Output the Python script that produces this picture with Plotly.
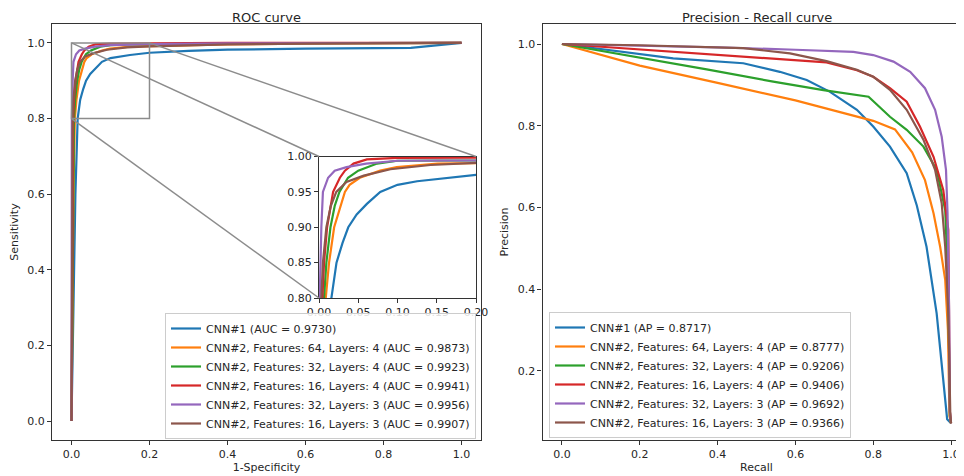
import plotly.graph_objects as go

# ---------------- data ----------------
model_names = [
    "CNN#1",
    "CNN#2, Features: 64, Layers: 4",
    "CNN#2, Features: 32, Layers: 4",
    "CNN#2, Features: 16, Layers: 4",
    "CNN#2, Features: 32, Layers: 3",
    "CNN#2, Features: 16, Layers: 3",
]
auc_values = [0.9730, 0.9873, 0.9923, 0.9941, 0.9956, 0.9907]
ap_values = [0.8717, 0.8777, 0.9206, 0.9406, 0.9692, 0.9366]
colors = ["#1f77b4", "#ff7f0e", "#2ca02c", "#d62728", "#9467bd", "#8c564b"]

fpr_cnn1 = [0, 0.01, 0.0158, 0.0223, 0.030, 0.0373, 0.048, 0.061, 0.078, 0.10, 0.125, 0.15, 0.2, 0.3, 0.4, 0.6, 0.87, 1.0]
tpr_cnn1 = [0, 0.6, 0.80, 0.85, 0.878, 0.90, 0.918, 0.933, 0.95, 0.96, 0.965, 0.968, 0.974, 0.979, 0.982, 0.985, 0.987, 1.0]
fpr_f64l4 = [0, 0.005, 0.0086, 0.0128, 0.0193, 0.033, 0.039, 0.052, 0.078, 0.099, 0.151, 0.2, 0.4, 0.6, 1.0]
tpr_f64l4 = [0, 0.6, 0.80, 0.85, 0.90, 0.95, 0.96, 0.97, 0.98, 0.985, 0.99, 0.991, 0.996, 0.998, 1.0]
fpr_f32l4 = [0, 0.003, 0.0064, 0.0094, 0.0146, 0.020, 0.026, 0.037, 0.050, 0.074, 0.1, 0.15, 0.2, 0.4, 1.0]
tpr_f32l4 = [0, 0.5, 0.80, 0.85, 0.90, 0.93, 0.95, 0.97, 0.98, 0.99, 0.994, 0.996, 0.997, 0.999, 1.0]
fpr_f16l4 = [0, 0.002, 0.0043, 0.0064, 0.0103, 0.018, 0.0266, 0.033, 0.044, 0.061, 0.1, 0.2, 0.4, 1.0]
tpr_f16l4 = [0, 0.5, 0.80, 0.85, 0.90, 0.95, 0.97, 0.98, 0.99, 0.996, 0.998, 0.999, 1.0, 1.0]
fpr_f32l3 = [0, 0.0005, 0.0009, 0.003, 0.005, 0.0116, 0.020, 0.035, 0.06, 0.1, 0.2, 0.4, 1.0]
tpr_f32l3 = [0, 0.5, 0.80, 0.90, 0.95, 0.97, 0.98, 0.985, 0.99, 0.994, 0.997, 0.999, 1.0]
fpr_f16l3 = [0, 0.0015, 0.003, 0.005, 0.0094, 0.015, 0.022, 0.035, 0.057, 0.091, 0.142, 0.2, 0.4, 0.6, 1.0]
tpr_f16l3 = [0, 0.5, 0.80, 0.85, 0.90, 0.93, 0.95, 0.964, 0.973, 0.982, 0.988, 0.991, 0.996, 0.998, 1.0]

rec_cnn1 = [0, 0.1, 0.286, 0.466, 0.56, 0.629, 0.689, 0.758, 0.8, 0.843, 0.886, 0.912, 0.937, 0.963, 0.98, 0.99, 1.0]
prec_cnn1 = [1.0, 0.988, 0.965, 0.953, 0.932, 0.912, 0.883, 0.839, 0.798, 0.749, 0.684, 0.605, 0.504, 0.341, 0.178, 0.082, 0.072]
rec_f64l4 = [0, 0.2, 0.4, 0.6, 0.8, 0.856, 0.9, 0.933, 0.955, 0.972, 0.985, 0.992, 0.996, 1.0]
prec_f64l4 = [1.0, 0.947, 0.905, 0.862, 0.812, 0.791, 0.735, 0.667, 0.586, 0.504, 0.423, 0.3, 0.09, 0.072]
rec_f32l4 = [0, 0.2, 0.372, 0.543, 0.672, 0.788, 0.843, 0.886, 0.929, 0.963, 0.985, 0.993, 0.997, 1.0]
prec_f32l4 = [1.0, 0.967, 0.938, 0.908, 0.887, 0.871, 0.822, 0.790, 0.749, 0.692, 0.594, 0.4, 0.09, 0.072]
rec_f16l4 = [0, 0.2, 0.466, 0.68, 0.758, 0.8, 0.843, 0.886, 0.92, 0.955, 0.98, 0.993, 0.997, 1.0]
prec_f16l4 = [1.0, 0.987, 0.969, 0.955, 0.936, 0.92, 0.892, 0.859, 0.798, 0.724, 0.643, 0.545, 0.1, 0.072]
rec_f32l3 = [0, 0.2, 0.4, 0.6, 0.749, 0.8, 0.852, 0.895, 0.933, 0.959, 0.976, 0.987, 0.991, 0.995, 0.997, 1.0]
prec_f32l3 = [1.0, 0.996, 0.992, 0.986, 0.981, 0.973, 0.957, 0.932, 0.892, 0.839, 0.773, 0.692, 0.586, 0.35, 0.1, 0.072]
rec_f16l3 = [0, 0.2, 0.466, 0.586, 0.68, 0.758, 0.8, 0.843, 0.886, 0.929, 0.959, 0.976, 0.985, 0.993, 0.998, 1.0]
prec_f16l3 = [1.0, 0.997, 0.99, 0.977, 0.958, 0.937, 0.92, 0.888, 0.839, 0.766, 0.692, 0.61, 0.504, 0.341, 0.1, 0.072]

roc_fpr = [fpr_cnn1, fpr_f64l4, fpr_f32l4, fpr_f16l4, fpr_f32l3, fpr_f16l3]
roc_tpr = [tpr_cnn1, tpr_f64l4, tpr_f32l4, tpr_f16l4, tpr_f32l3, tpr_f16l3]
pr_rec = [rec_cnn1, rec_f64l4, rec_f32l4, rec_f16l4, rec_f32l3, rec_f16l3]
pr_prec = [prec_cnn1, prec_f64l4, prec_f32l4, prec_f16l4, prec_f32l3, prec_f16l3]

main_ticks = [0.0, 0.2, 0.4, 0.6, 0.8, 1.0]
pr_yticks = [0.2, 0.4, 0.6, 0.8, 1.0]
inset_xticks = [0.00, 0.05, 0.10, 0.15, 0.20]
inset_yticks = [0.80, 0.85, 0.90, 0.95, 1.00]

# ---------------- layout geometry ----------------
W, H = 964, 476
PAGE_OFFSET = 8  # default page margin around the plot div
FONT = "DejaVu Sans"
TXT = "#262626"
AX = "#333333"
ZOOM = "#8c8c8c"

def px_x(p):
    return (p - PAGE_OFFSET) / W

def px_y(p):
    return 1 - (p - PAGE_OFFSET) / H

main_dom_x = [px_x(52), px_x(481)]
pr_dom_x = [px_x(542.5), px_x(970.5)]
dom_y = [px_y(440), px_y(24)]
inset_dom_x = [px_x(319), px_x(476)]
inset_dom_y = [px_y(298), px_y(156.5)]

main_xr = [-0.05, 1.05]
main_yr = [-0.05, 1.05]
pr_xr = [-0.05, 1.05]
pr_yr = [0.031, 1.049]
inset_xr = [0.0, 0.2]
inset_yr = [0.8, 1.0]

fig = go.Figure()

for i in range(6):
    fig.add_trace(go.Scatter(
        x=roc_fpr[i], y=roc_tpr[i], mode="lines",
        line=dict(color=colors[i], width=2.2),
        name=f"{model_names[i]} (AUC = {auc_values[i]:.4f})",
        xaxis="x", yaxis="y", legend="legend",
    ))
for i in range(6):
    fig.add_trace(go.Scatter(
        x=roc_fpr[i], y=roc_tpr[i], mode="lines",
        line=dict(color=colors[i], width=2.2),
        showlegend=False, xaxis="x3", yaxis="y3",
    ))
for i in range(6):
    fig.add_trace(go.Scatter(
        x=pr_rec[i], y=pr_prec[i], mode="lines",
        line=dict(color=colors[i], width=2.2),
        name=f"{model_names[i]} (AP = {ap_values[i]:.4f})",
        xaxis="x2", yaxis="y2", legend="legend2",
    ))

axis_common = dict(
    showgrid=False, zeroline=False, showline=True, linecolor=AX, linewidth=1.2,
    mirror=True, ticks="outside", ticklen=4, tickcolor=AX, tickwidth=1,
    automargin=False,
    tickfont=dict(family=FONT, size=11, color=TXT),
)

def to_paper(xv, yv, xr, yr, dx, dy):
    px = dx[0] + (xv - xr[0]) / (xr[1] - xr[0]) * (dx[1] - dx[0])
    py = dy[0] + (yv - yr[0]) / (yr[1] - yr[0]) * (dy[1] - dy[0])
    return px, py

# zoom indicator rectangle + connectors
shapes = [dict(type="rect", xref="x", yref="y",
               x0=inset_xr[0], x1=inset_xr[1], y0=inset_yr[0], y1=inset_yr[1],
               line=dict(color=ZOOM, width=1.5), layer="above")]
for cx, cy in [(inset_xr[0], inset_yr[1]), (inset_xr[1], inset_yr[1]), (inset_xr[0], inset_yr[0])]:
    a = to_paper(cx, cy, main_xr, main_yr, main_dom_x, dom_y)
    b = to_paper(cx, cy, inset_xr, inset_yr, inset_dom_x, inset_dom_y)
    shapes.append(dict(type="line", xref="paper", yref="paper",
                       x0=a[0], y0=a[1], x1=b[0], y1=b[1],
                       line=dict(color=ZOOM, width=1.5), layer="above"))

legend_common = dict(
    font=dict(family=FONT, size=11, color=TXT),
    bgcolor="rgba(255,255,255,0.85)", bordercolor="#cccccc", borderwidth=1,
    tracegroupgap=0,
)

title_font = dict(family=FONT, size=13, color=TXT)

fig.update_layout(
    width=W, height=H,
    margin=dict(l=0, r=0, t=0, b=0, autoexpand=False),
    paper_bgcolor="white", plot_bgcolor="white",
    font=dict(family=FONT, color=TXT),
    xaxis=dict(domain=main_dom_x, range=main_xr, tickvals=main_ticks, tickformat=".1f",
               anchor="y",
               title=dict(text="1-Specificity", font=dict(size=11), standoff=3), **axis_common),
    yaxis=dict(domain=dom_y, range=main_yr, tickvals=main_ticks, tickformat=".1f",
               anchor="x",
               title=dict(text="Sensitivity", font=dict(size=11), standoff=6), **axis_common),
    xaxis2=dict(domain=pr_dom_x, range=pr_xr, tickvals=main_ticks, tickformat=".1f",
                anchor="y2",
                title=dict(text="Recall", font=dict(size=11), standoff=3), **axis_common),
    yaxis2=dict(domain=dom_y, range=pr_yr, tickvals=pr_yticks, tickformat=".1f",
                anchor="x2",
                title=dict(text="Precision", font=dict(size=11), standoff=6), **axis_common),
    xaxis3=dict(domain=inset_dom_x, range=inset_xr, tickvals=inset_xticks, tickformat=".2f",
                anchor="y3", **axis_common),
    yaxis3=dict(domain=inset_dom_y, range=inset_yr, tickvals=inset_yticks, tickformat=".2f",
                anchor="x3", **axis_common),
    shapes=shapes,
    legend=dict(x=px_x(476), y=px_y(439), xanchor="right", yanchor="bottom", **legend_common),
    legend2=dict(x=px_x(549), y=px_y(438), xanchor="left", yanchor="bottom", **legend_common),
    annotations=[
        dict(text="ROC curve", xref="x", yref="paper", x=0.5, y=1.0,
             xanchor="center", yanchor="top", showarrow=False, font=title_font),
        dict(text="Precision - Recall curve", xref="x2", yref="paper", x=0.5, y=1.0,
             xanchor="center", yanchor="top", showarrow=False, font=title_font),
    ],
)

fig.write_html("out.html")
